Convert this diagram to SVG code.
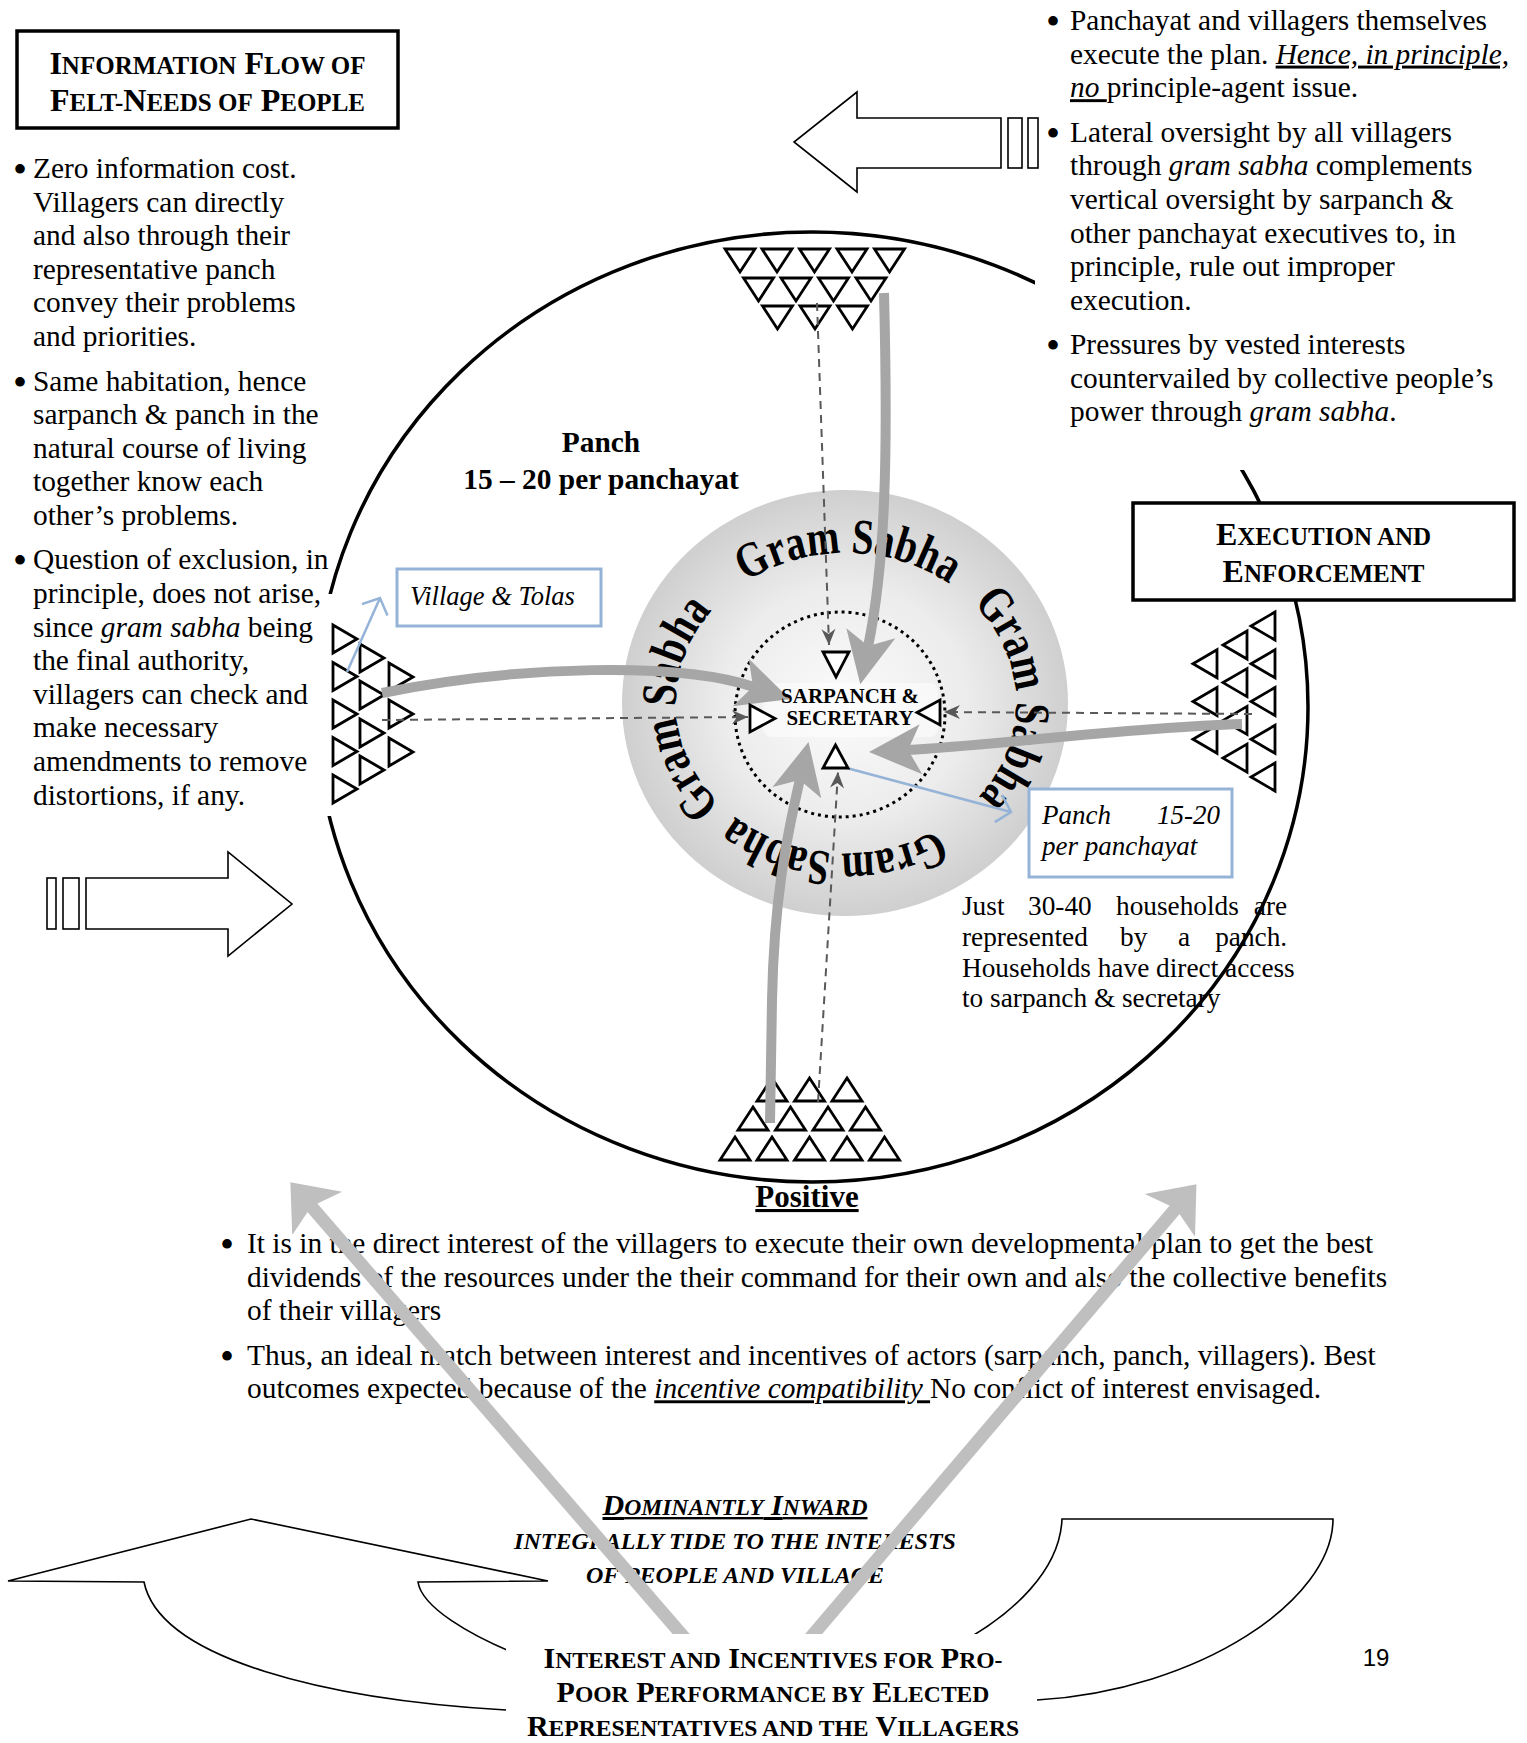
<svg xmlns="http://www.w3.org/2000/svg" xmlns:xlink="http://www.w3.org/1999/xlink" width="1527" height="1743" viewBox="0 0 1527 1743">
<style>
.t{font-family:"Liberation Serif","Times New Roman",serif;font-size:29.4px;fill:#000}
.it{font-style:italic}
.u{text-decoration:underline}
.bd{font-weight:bold}
.bl{font-size:40px}
.sc{font-size:25px}
.sc2{font-size:23.6px}
.box{fill:#fff;stroke:#000;stroke-width:3.5}
.bbox{fill:#fff;stroke:#95b3d7;stroke-width:3}
.tri{fill:#fff;stroke:#000;stroke-width:2.8;stroke-linejoin:miter}
.dash{fill:none;stroke:#595959;stroke-width:2;stroke-dasharray:8 6}
.gar{fill:none;stroke:#a6a6a6;stroke-width:10}
.bar{fill:none;stroke:#bfbfbf;stroke-width:13}
.blue{fill:none;stroke:#95b3d7;stroke-width:2.5}
.blk{fill:#fff;stroke:#000;stroke-width:1.6}
.gs{font-family:"Liberation Serif","Times New Roman",serif;font-weight:bold;font-size:50px;fill:#000}
</style>
<defs>
<radialGradient id="gg" cx="50%" cy="50%" r="50%">
<stop offset="0" stop-color="#fbfbfb"/>
<stop offset="0.55" stop-color="#ececec"/>
<stop offset="1" stop-color="#cfcfcf"/>
</radialGradient>
<marker id="gh" markerUnits="userSpaceOnUse" viewBox="-20 -30 62 60" markerWidth="62" markerHeight="60" refX="0" refY="0" orient="auto" overflow="visible"><path d="M38,0 L-14,-25 L-1,0 L-14,25 Z" fill="#a6a6a6"/></marker>
<marker id="bh" markerUnits="userSpaceOnUse" viewBox="-20 -40 60 80" markerWidth="60" markerHeight="80" refX="0" refY="0" orient="auto" overflow="visible"><path d="M30,0 L-11,-33 L-2,0 L-11,33 Z" fill="#bfbfbf"/></marker>
<marker id="dh" markerUnits="userSpaceOnUse" viewBox="-20 -10 22 20" markerWidth="22" markerHeight="20" refX="0" refY="0" orient="auto" overflow="visible"><path d="M0,0 L-16,-7 L-11,0 L-16,7 Z" fill="#595959"/></marker>
<marker id="bo" markerUnits="userSpaceOnUse" viewBox="-16 -16 20 32" markerWidth="20" markerHeight="32" refX="0" refY="0" orient="auto" overflow="visible"><path d="M-13,-14 L0,0 L-13,14" fill="none" stroke="#95b3d7" stroke-width="2.5"/></marker>
<path id="tr" d="M0,0 L24,14 L0,28 Z"/>
<path id="tl" d="M24,0 L0,14 L24,28 Z"/>
<path id="td" d="M0,0 L30,0 L15,23 Z"/>
<path id="tu" d="M15,0 L30,23 L0,23 Z"/>
<path id="gsp" d="M846,853 A170,150 0 1 1 846,553 A170,150 0 1 1 846,853 A170,150 0 1 1 846,553 A170,150 0 1 1 846,853"/>
</defs>
<rect width="1527" height="1743" fill="#fff"/>

<g id="households-note">
<text class="t" style="font-size:27.3px">
<tspan x="962" y="915">Just</tspan><tspan x="1028" y="915">30-40</tspan><tspan x="1116" y="915">households</tspan><tspan x="1294" y="915" text-anchor="end">are</tspan>
<tspan x="962" y="946">represented</tspan><tspan x="1120" y="946">by</tspan><tspan x="1178" y="946">a</tspan><tspan x="1294" y="946" text-anchor="end">panch.</tspan>
<tspan x="962" y="977">Households have direct access</tspan>
<tspan x="962" y="1007">to sarpanch &amp; secretary</tspan>
</text>
</g>

<g id="panchayat-circle">
<ellipse cx="812" cy="707" rx="496" ry="475" fill="none" stroke="#000" stroke-width="3.5"/>
<text class="t bd" x="601" y="452" text-anchor="middle">Panch</text>
<text class="t bd" x="601" y="489" text-anchor="middle">15 – 20 per panchayat</text>
</g>

<g id="gram-sabha">
<ellipse cx="845" cy="703" rx="223" ry="213" fill="url(#gg)"/>
<rect x="763" y="683" width="175" height="54" rx="8" fill="#fff" opacity="0.5"/>
<ellipse cx="840" cy="714.5" rx="105" ry="102.5" fill="none" stroke="#000" stroke-width="3" stroke-dasharray="3 4"/>
</g>

<g id="execution-text">
<rect x="1035" y="0" width="492" height="470" fill="#fff"/>
<text class="t">
<tspan x="1046" y="35" class="bl">•</tspan><tspan x="1070" y="30">Panchayat and villagers themselves</tspan>
<tspan x="1070" y="63.6">execute the plan. <tspan class="it u">Hence, in principle,</tspan></tspan>
<tspan x="1070" y="97.2"><tspan class="it u">no </tspan>principle-agent issue.</tspan>
<tspan x="1046" y="146.7" class="bl">•</tspan><tspan x="1070" y="141.7">Lateral oversight by all villagers</tspan>
<tspan x="1070" y="175.3">through <tspan class="it">gram sabha</tspan> complements</tspan>
<tspan x="1070" y="208.9">vertical oversight by sarpanch &amp;</tspan>
<tspan x="1070" y="242.5">other panchayat executives to, in</tspan>
<tspan x="1070" y="276.1">principle, rule out improper</tspan>
<tspan x="1070" y="309.7">execution.</tspan>
<tspan x="1046" y="359.2" class="bl">•</tspan><tspan x="1070" y="354.2">Pressures by vested interests</tspan>
<tspan x="1070" y="387.8">countervailed by collective people’s</tspan>
<tspan x="1070" y="421.4">power through <tspan class="it">gram sabha</tspan>.</tspan>
</text>
</g>

<g id="info-title">
<rect class="box" x="17" y="31" width="381" height="97"/>
<text class="t bd" x="207.5" y="74" text-anchor="middle" style="font-size:32px">I<tspan class="sc">NFORMATION</tspan> F<tspan class="sc">LOW OF</tspan></text>
<text class="t bd" x="207.5" y="111" text-anchor="middle" style="font-size:32px">F<tspan class="sc">ELT-</tspan>N<tspan class="sc">EEDS OF</tspan> P<tspan class="sc">EOPLE</tspan></text>
</g>

<g id="execution-title">
<rect class="box" x="1133" y="503" width="381" height="97"/>
<text class="t bd" x="1323.5" y="545" text-anchor="middle" style="font-size:32px">E<tspan class="sc">XECUTION AND</tspan></text>
<text class="t bd" x="1323.5" y="582" text-anchor="middle" style="font-size:32px">E<tspan class="sc">NFORCEMENT</tspan></text>
</g>

<g id="villagers-left">
<rect x="300" y="594" width="120" height="222" fill="#fff"/>
<use href="#tr" class="tri" x="333" y="625"/><use href="#tr" class="tri" x="333" y="662.5"/><use href="#tr" class="tri" x="333" y="700"/><use href="#tr" class="tri" x="333" y="737.5"/><use href="#tr" class="tri" x="333" y="775"/>
<use href="#tr" class="tri" x="360" y="644"/><use href="#tr" class="tri" x="360" y="681"/><use href="#tr" class="tri" x="360" y="719"/><use href="#tr" class="tri" x="360" y="756"/>
<use href="#tr" class="tri" x="389" y="663"/><use href="#tr" class="tri" x="389" y="700"/><use href="#tr" class="tri" x="389" y="738"/>
</g>

<g id="info-text">
<text class="t">
<tspan x="13" y="183" class="bl">•</tspan><tspan x="33" y="178">Zero information cost.</tspan>
<tspan x="33" y="211.6">Villagers can directly</tspan>
<tspan x="33" y="245.2">and also through their</tspan>
<tspan x="33" y="278.8">representative panch</tspan>
<tspan x="33" y="312.4">convey their problems</tspan>
<tspan x="33" y="346">and priorities.</tspan>
<tspan x="13" y="395.5" class="bl">•</tspan><tspan x="33" y="390.5">Same habitation, hence</tspan>
<tspan x="33" y="424.1">sarpanch &amp; panch in the</tspan>
<tspan x="33" y="457.7">natural course of living</tspan>
<tspan x="33" y="491.3">together know each</tspan>
<tspan x="33" y="524.9">other’s problems.</tspan>
<tspan x="13" y="574.4" class="bl">•</tspan><tspan x="33" y="569.4">Question of exclusion, in</tspan>
<tspan x="33" y="603">principle, does not arise,</tspan>
<tspan x="33" y="636.6">since <tspan class="it">gram sabha</tspan> being</tspan>
<tspan x="33" y="670.2">the final authority,</tspan>
<tspan x="33" y="703.8">villagers can check and</tspan>
<tspan x="33" y="737.4">make necessary</tspan>
<tspan x="33" y="771">amendments to remove</tspan>
<tspan x="33" y="804.6">distortions, if any.</tspan>
</text>
</g>

<g id="villagers-top">
<use href="#td" class="tri" x="725" y="249"/><use href="#td" class="tri" x="762" y="249"/><use href="#td" class="tri" x="799.5" y="249"/><use href="#td" class="tri" x="837" y="249"/><use href="#td" class="tri" x="874.5" y="249"/>
<use href="#td" class="tri" x="743.5" y="278"/><use href="#td" class="tri" x="781" y="278"/><use href="#td" class="tri" x="818.5" y="278"/><use href="#td" class="tri" x="856" y="278"/>
<use href="#td" class="tri" x="762.5" y="306"/><use href="#td" class="tri" x="800" y="306"/><use href="#td" class="tri" x="837.5" y="306"/>
</g>

<g id="villagers-right">
<use href="#tl" class="tri" x="1251" y="612"/><use href="#tl" class="tri" x="1251" y="649.8"/><use href="#tl" class="tri" x="1251" y="687.5"/><use href="#tl" class="tri" x="1251" y="725.3"/><use href="#tl" class="tri" x="1251" y="763"/>
<use href="#tl" class="tri" x="1223" y="631"/><use href="#tl" class="tri" x="1223" y="668.6"/><use href="#tl" class="tri" x="1223" y="706.4"/><use href="#tl" class="tri" x="1223" y="744.1"/>
<use href="#tl" class="tri" x="1193" y="649.8"/><use href="#tl" class="tri" x="1193" y="687.5"/><use href="#tl" class="tri" x="1193" y="725.3"/>
</g>

<g id="villagers-bottom">
<use href="#tu" class="tri" x="757" y="1078"/><use href="#tu" class="tri" x="794.5" y="1078"/><use href="#tu" class="tri" x="832" y="1078"/>
<use href="#tu" class="tri" x="738" y="1107"/><use href="#tu" class="tri" x="775.5" y="1107"/><use href="#tu" class="tri" x="813" y="1107"/><use href="#tu" class="tri" x="850.5" y="1107"/>
<use href="#tu" class="tri" x="720" y="1137"/><use href="#tu" class="tri" x="757" y="1137"/><use href="#tu" class="tri" x="794.5" y="1137"/><use href="#tu" class="tri" x="832" y="1137"/><use href="#tu" class="tri" x="869.5" y="1137"/>
</g>

<g id="village-tolas">
<rect class="bbox" x="397" y="569" width="204" height="57"/>
<text class="t it" x="410" y="605" style="font-size:26.5px">Village &amp; Tolas</text>
</g>

<g id="panch-box">
<rect class="bbox" x="1029" y="789" width="203" height="88"/>
<text class="t it" style="font-size:27px"><tspan x="1042" y="824">Panch</tspan><tspan x="1220" y="824" text-anchor="end">15-20</tspan><tspan x="1042" y="855">per panchayat</tspan></text>
</g>

<g id="gram-sabha-labels">
<text class="gs" text-anchor="middle"><textPath href="#gsp" startOffset="12.2%" textLength="215" lengthAdjust="spacingAndGlyphs">Gram Sabha</textPath></text>
<text class="gs" text-anchor="middle"><textPath href="#gsp" startOffset="25.1%" textLength="215" lengthAdjust="spacingAndGlyphs">Gram Sabha</textPath></text>
<text class="gs" text-anchor="middle"><textPath href="#gsp" startOffset="37.3%" textLength="215" lengthAdjust="spacingAndGlyphs">Gram Sabha</textPath></text>
<text class="gs" text-anchor="middle"><textPath href="#gsp" startOffset="50.6%" textLength="215" lengthAdjust="spacingAndGlyphs">Gram Sabha</textPath></text>
</g>

<g id="connectors">
<path class="dash" d="M817,303 L829,645" marker-end="url(#dh)"/>
<path class="dash" d="M382,720 L748,717" marker-end="url(#dh)"/>
<path class="dash" d="M1252,714 L944,712" marker-end="url(#dh)"/>
<path class="dash" d="M818,1102 L838,772" marker-end="url(#dh)"/>
<path class="gar" d="M382,693 C520,665 680,662 754,687" marker-end="url(#gh)"/>
<path class="gar" d="M884,293 C888,450 886,560 868,647" marker-end="url(#gh)"/>
<path class="gar" d="M1242,724 C1120,728 1000,745 907,750" marker-end="url(#gh)"/>
<path class="gar" d="M770,1123 L772,1000 C774,900 786,840 800,779" marker-end="url(#gh)"/>
<path class="blue" d="M347,672 L380,598" marker-end="url(#bo)"/>
<path class="blue" d="M843,767 L1011,812" marker-end="url(#bo)"/>
</g>

<g id="sarpanch">
<polygon class="tri" points="823,652 849,652 836,677"/>
<polygon class="tri" points="750,705 750,732 775,718.5"/>
<polygon class="tri" points="940,700 940,725 917,712.5"/>
<polygon class="tri" points="823,768 848,768 835.5,745"/>
<text class="t bd" x="850" y="703" text-anchor="middle" style="font-size:21px">SARPANCH &amp;</text>
<text class="t bd" x="850" y="725" text-anchor="middle" style="font-size:21px">SECRETARY</text>
</g>

<g id="positive">
<text class="t bd u" x="807" y="1207" text-anchor="middle" style="font-size:31px">Positive</text>
<text class="t">
<tspan x="220" y="1258" class="bl">•</tspan><tspan x="247" y="1253">It is in the direct interest of the villagers to execute their own developmental plan to get the best</tspan>
<tspan x="247" y="1286.6">dividends of the resources under the their command for their own and also the collective benefits</tspan>
<tspan x="247" y="1320.2">of their villagers</tspan>
<tspan x="220" y="1369.7" class="bl">•</tspan><tspan x="247" y="1364.7">Thus, an ideal match between interest and incentives of actors (sarpanch, panch, villagers). Best</tspan>
<tspan x="247" y="1398.3">outcomes expected because of the <tspan class="it u">incentive compatibility </tspan>No conflict of interest envisaged.</tspan>
</text>
</g>

<g id="curved-arrow">
<path class="blk" d="M8,1581 L251,1519 L548,1581 L418,1582 C425,1630 600,1700 740,1700 C880,1700 1058,1620 1062,1519 L1333,1519 C1333,1600 1200,1690 1037,1700 C900,1740 700,1750 506,1710 C330,1700 160,1660 144,1582 Z"/>
</g>

<g id="inward">
<text class="t bd it u" x="735" y="1515" text-anchor="middle" style="font-size:30px">D<tspan class="sc2">OMINANTLY</tspan> I<tspan class="sc2">NWARD</tspan></text>
<text class="t bd it" x="735" y="1549" text-anchor="middle" style="font-size:24px">INTEGRALLY TIDE TO THE INTERESTS</text>
<text class="t bd it" x="735" y="1583" text-anchor="middle" style="font-size:24px">OF PEOPLE AND VILLAGE</text>
</g>

<g id="incentive-arrows">
<path class="bar" d="M695,1650 L310,1205" marker-end="url(#bh)"/>
<path class="bar" d="M800,1650 L1177,1207" marker-end="url(#bh)"/>
</g>

<g id="incentives-title">
<rect x="506" y="1634" width="531" height="109" fill="#fff"/>
<text class="t bd" x="773" y="1668" text-anchor="middle" style="font-size:30px">I<tspan class="sc2">NTEREST AND</tspan> I<tspan class="sc2">NCENTIVES FOR</tspan> P<tspan class="sc2">RO-</tspan></text>
<text class="t bd" x="773" y="1702" text-anchor="middle" style="font-size:30px">P<tspan class="sc2">OOR</tspan> P<tspan class="sc2">ERFORMANCE BY</tspan> E<tspan class="sc2">LECTED</tspan></text>
<text class="t bd" x="773" y="1736" text-anchor="middle" style="font-size:30px">R<tspan class="sc2">EPRESENTATIVES AND THE</tspan> V<tspan class="sc2">ILLAGERS</tspan></text>
</g>

<g id="page-number">
<text x="1376" y="1666" text-anchor="middle" style="font-family:'Liberation Sans',Arial,sans-serif;font-size:24px">19</text>
</g>

<g id="arrow-out">
<path class="blk" d="M1001,118 L857,118 L857,92 L794,142 L857,192 L857,168 L1001,168 Z"/>
<rect class="blk" x="1008" y="118" width="14" height="50"/>
<rect class="blk" x="1028" y="118" width="10" height="50"/>
</g>

<g id="arrow-in">
<path class="blk" d="M86,878 L228,878 L228,852 L292,904 L228,956 L228,929 L86,929 Z"/>
<rect class="blk" x="47" y="878" width="9" height="51"/>
<rect class="blk" x="63" y="878" width="16" height="51"/>
</g>
</svg>
